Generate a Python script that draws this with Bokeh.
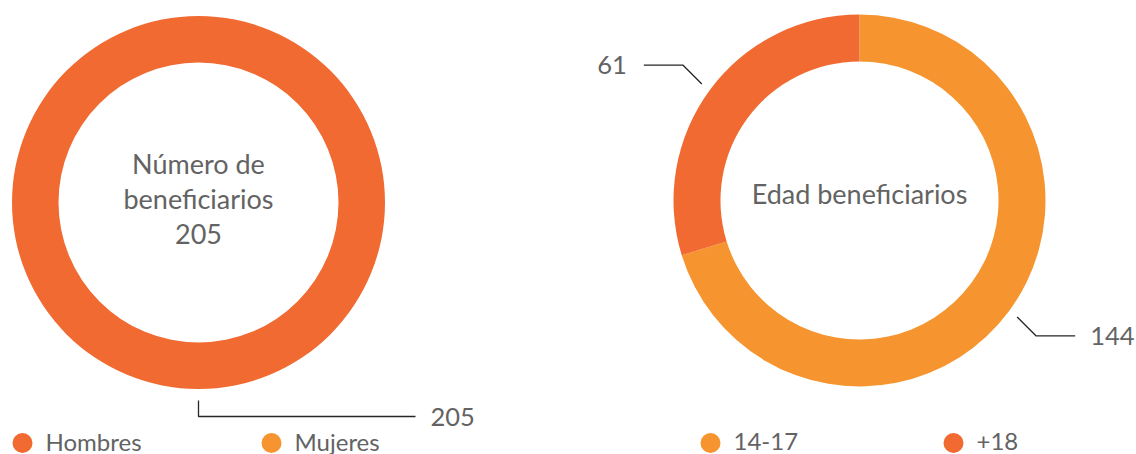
import math
from bokeh.plotting import figure
from bokeh.models import Range1d
from bokeh.core.properties import value
from bokeh.embed import file_html
from bokeh.resources import INLINE

# ---------------- data ----------------
sexo_categorias = ["Hombres", "Mujeres"]
sexo_valores = [205, 0]
sexo_titulo = ["Número de", "beneficiarios", "205"]

edad_categorias = ["14-17", "+18"]
edad_valores = [144, 61]
edad_titulo = ["Edad beneficiarios"]

ROJO = "#F16A32"
NARANJA = "#F6952F"
sexo_colores = [ROJO, NARANJA]
edad_colores = [NARANJA, ROJO]

# ---------------- layout ----------------
W, H = 1136, 454
FONT = "Lato"
GRIS = "#636363"
LINEA = "#262626"


def Y(sy):
    """page-pixel y (down) -> data y (up)"""
    return H - sy


charts = [
    dict(cats=sexo_categorias, vals=sexo_valores, cols=sexo_colores, title=sexo_titulo,
         cx=198, cy=202, r_out=186.5, r_in=140, title_y0=163, title_dy=35,
         leaders=[(11.5, 0, 16, 217)], legend_x0=22, legend_dx=249),
    dict(cats=edad_categorias, vals=edad_valores, cols=edad_colores, title=edad_titulo,
         cx=859, cy=200, r_out=186, r_in=139, title_y0=193, title_dy=35,
         leaders=[(10, 19, 19, 39), (10, -19, -19, -39)], legend_x0=710, legend_dx=243),
]
LEGEND_Y = 440.5

p = figure(width=W, height=H, x_range=Range1d(0, W), y_range=Range1d(0, H),
           output_backend="svg", toolbar_location=None, x_axis_type=None, y_axis_type=None,
           min_border=0, outline_line_color=None)
p.background_fill_color = "white"
p.border_fill_color = "white"

for ch in charts:
    vals = ch["vals"]
    total = float(sum(vals))
    cx, cy = ch["cx"], ch["cy"]
    cum = 0.0
    li = 0
    for cat, v, col in zip(ch["cats"], vals, ch["cols"]):
        if v <= 0:
            continue
        t0 = cum / total * 2 * math.pi
        t1 = (cum + v) / total * 2 * math.pi
        cum += v
        if v >= total:
            p.annulus(x=[cx], y=[Y(cy)], inner_radius=ch["r_in"], outer_radius=ch["r_out"],
                      inner_radius_units="screen", outer_radius_units="screen",
                      fill_color=col, line_color=None)
        else:
            p.annular_wedge(x=[cx], y=[Y(cy)], inner_radius=ch["r_in"], outer_radius=ch["r_out"],
                            inner_radius_units="screen", outer_radius_units="screen",
                            start_angle=math.pi / 2 - t1, end_angle=math.pi / 2 - t0,
                            direction="anticlock", fill_color=col, line_color=None)
        # leader + label
        tm = (t0 + t1) / 2
        roff, edx, edy, run = ch["leaders"][li]
        li += 1
        r = ch["r_out"] + roff
        sx = cx + r * math.sin(tm)
        sy = cy - r * math.cos(tm)
        ex, ey = sx + edx, sy + edy
        fx = ex + run
        p.line(x=[sx, ex, fx], y=[Y(sy), Y(ey), Y(ey)], line_color=LINEA, line_width=1.3)
        if run >= 0:
            p.text(x=[fx + 15], y=[Y(ey)], text=[str(v)], text_align="left", text_baseline="middle",
                   text_font=value(FONT), text_font_size="25.5px", text_color=GRIS)
        else:
            p.text(x=[fx - 17], y=[Y(ey)], text=[str(v)], text_align="right", text_baseline="middle",
                   text_font=value(FONT), text_font_size="25.5px", text_color=GRIS)
    # center title
    for i, line in enumerate(ch["title"]):
        p.text(x=[cx], y=[Y(ch["title_y0"] + i * ch["title_dy"])], text=[line], text_align="center",
               text_baseline="middle", text_font=value(FONT), text_font_size="27px", text_color=GRIS)
    # legend
    for i, (cat, col) in enumerate(zip(ch["cats"], ch["cols"])):
        lx = ch["legend_x0"] + i * ch["legend_dx"]
        p.scatter(x=[lx], y=[Y(LEGEND_Y + 2)], marker="circle", size=20, fill_color=col, line_color=None)
        p.text(x=[lx + 23], y=[Y(LEGEND_Y)], text=[cat], text_align="left", text_baseline="middle",
               text_font=value(FONT), text_font_size="24px", text_color=GRIS)

open("out.html", "w").write(file_html(p, INLINE))
